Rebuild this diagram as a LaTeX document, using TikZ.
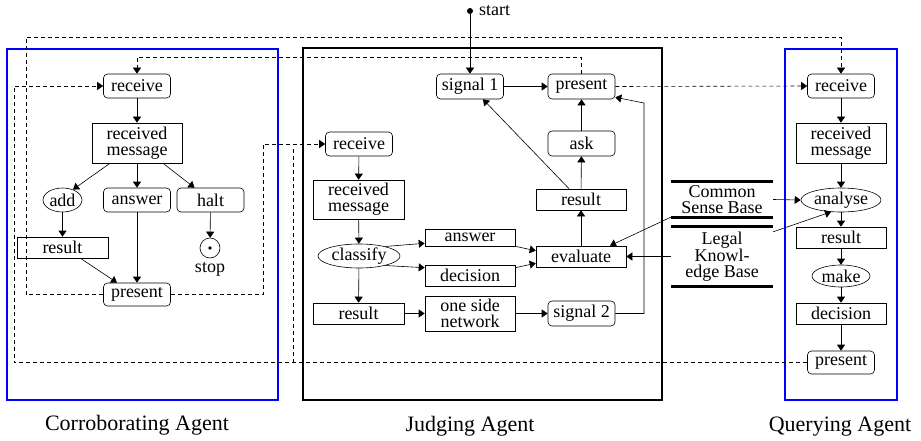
\documentclass[tikz,border=0pt]{standalone}
\usepackage{fontspec}
\setmainfont{Liberation Serif}
\usetikzlibrary{arrows.meta,shapes.geometric}
\begin{document}
\begin{tikzpicture}[x=1pt,y=-1pt,
 every node/.style={font=\fontsize{18}{16}\selectfont, inner sep=0pt, align=center},
 rnd/.style={draw, rounded corners=4pt, minimum width=67pt, minimum height=24pt, line width=0.6pt},
 box/.style={draw, minimum width=90pt, minimum height=21pt, line width=0.6pt},
 ell/.style={draw, ellipse, minimum height=24pt, line width=0.6pt},
 arr/.style={-{Triangle[length=6pt,width=8pt]}, line width=0.6pt},
 dsh/.style={dash pattern=on 4pt off 3pt, line width=0.6pt},
 dsharr/.style={dsh, -{Triangle[length=6pt,width=8pt]}},
 agentbox/.style={line width=2.5pt},
 lbl/.style={font=\fontsize{22}{24}\selectfont, anchor=base},
 dbline/.style={line width=3pt}
]
\useasboundingbox (0,0) rectangle (921,441);

% agent frames
\draw[agentbox, blue] (7,49) rectangle (278,400);
\draw[agentbox] (303,48) rectangle (662,400);
\draw[agentbox, blue] (785,49) rectangle (897,400);

\node[lbl] (lc) at (137,430) {Corroborating Agent};
\node[lbl] (lj) at (470,431) {Judging Agent};
\node[lbl] (lq) at (840,431) {Querying Agent};

% Corroborating agent
\node[rnd] (crecv) at (137,86) {receive};
\node[box, minimum height=40pt] (crm) at (137,143) {received\\message};
\node[ell, minimum width=39pt] (cadd) at (62.5,200) {add};
\node[rnd] (cans) at (137,200) {answer};
\node[rnd] (chalt) at (210.5,200) {halt};
\node[box, minimum width=91pt] (cres) at (62.5,247.5) {result};
\node[circle, draw, minimum size=20pt, line width=0.6pt] (cstop) at (210,248) {};
\fill (cstop.center) circle (1.8pt);
\node[anchor=base] (cstoplbl) at (210,272) {stop};
\node[rnd, minimum height=23pt] (cpres) at (137,294.5) {present};

% Judging agent
\node[circle, fill, minimum size=6pt] (start) at (470,11) {};
\node[anchor=base west] (startlbl) at (479,16) {start};
\node[rnd, minimum height=25pt] (sig1) at (470,86.5) {signal 1};
\node[rnd, minimum height=25pt] (jpres) at (581.5,86.5) {present};
\node[rnd] (jrecv) at (359,144) {receive};
\node[box, minimum width=91pt, minimum height=39pt] (jrm) at (358.5,199.5) {received\\message};
\node[rnd, minimum height=25pt] (ask) at (581.5,143.5) {ask};
\node[box] (jres) at (581,199.5) {result};
\node[box] (jeval) at (581,256.5) {evaluate};
\node[ell, minimum width=82pt] (cls) at (359,256) {classify};
\node[box, minimum height=17pt] (jans) at (470,237.5) {answer};
\node[box] (jdec) at (470,275.5) {decision};
\node[box, minimum width=91pt] (jres2) at (358.5,313.5) {result};
\node[box, minimum height=35pt] (osn) at (470,313.5) {one side\\network};
\node[rnd, minimum height=25pt] (sig2) at (581.5,313.5) {signal 2};

% knowledge bases
\node[minimum width=102pt, minimum height=35pt] (csb) at (722,199.5) {Common\\Sense Base};
\node[minimum width=102pt, minimum height=59pt] (lkb) at (722,256.5) {Legal\\Knowl-\\edge Base};
\draw[dbline] (csb.north west) -- (csb.north east);
\draw[dbline] (csb.south west) -- (csb.south east);
\draw[dbline] (lkb.north west) -- (lkb.north east);
\draw[dbline] (lkb.south west) -- (lkb.south east);

% Querying agent
\node[rnd] (qrecv) at (841,86) {receive};
\node[box, minimum height=40pt] (qrm) at (841,143) {received\\message};
\node[ell, minimum width=80pt] (qan) at (841,200) {analyse};
\node[box] (qres) at (841,237.5) {result};
\node[ell, minimum width=58pt, minimum height=22pt] (qmake) at (841,276) {make};
\node[box] (qdec) at (841,313.5) {decision};
\node[rnd, minimum height=23pt] (qpres) at (841,362.5) {present};

% dashed message lines
\coordinate (a1) at (26,294.5);
\coordinate (a2) at (26,37);
\draw[dsharr] (cpres.west) -- (a1) -- (a2) -- (qrecv.north |- a2) -- (qrecv.north);
\draw[dsharr] (cpres.east) -| (263,144) -- (jrecv.west);
\draw[dsharr] (jpres.north) |- (137,57) -- (crecv.north);
\draw[dsharr] (jpres.east) -- (qrecv.west);
\draw[dsharr] (qpres.west) -| (14,86) -- (crecv.west);
\coordinate (e1) at (293,362.5);
\coordinate (e2) at (293,144);
\draw[dsh] (e1) -- (e2);

% corroborating arrows
\draw[arr] (crecv) -- (crm);
\draw[arr] ([xshift=-27pt]crm.south) -- (cadd.45);
\draw[arr] (crm) -- (cans);
\draw[arr] ([xshift=26pt]crm.south) -- ([xshift=-16pt]chalt.north);
\draw[arr] (cadd) -- (cres);
\draw[arr] (chalt) -- (cstop);
\draw[arr] (cans) -- (cpres);
\draw[arr] ([xshift=18pt]cres.south) -- ([xshift=-20pt]cpres.north);

% judging arrows
\draw[arr] (start) -- (sig1);
\draw[arr] (sig1) -- (jpres);
\draw[arr] (ask) -- (jpres);
\draw[arr] (jres) -- (ask);
\draw[arr] (jeval) -- (jres);
\draw[arr] ([xshift=-12pt]jres.north) -- ([xshift=13pt]sig1.south);
\draw[arr] (sig2.east) -| (644,103) -- ([yshift=2pt]jpres.south east);
\draw[arr] (jrecv) -- (jrm);
\draw[arr] (jrm) -- (cls);
\draw[arr] (cls) -- (jres2);
\draw[arr] (jres2) -- (osn);
\draw[arr] (osn) -- (sig2);
\draw[arr] (cls.20) -- ([yshift=3pt]jans.south west);
\draw[arr] (cls.-20) -- ([yshift=-3pt]jdec.north west);
\draw[arr] (jans.south east) -- ([yshift=-5pt]jeval.north west);
\draw[arr] ([yshift=-3pt]jdec.north east) -- ([yshift=4pt]jeval.south west);
\draw[arr] (csb.south west) -- ([xshift=29pt]jeval.north);
\draw[arr] (lkb.west) -- (jeval.east);
\draw[arr] (csb.east) -- (qan.west);
\draw[arr] ([yshift=-5pt]lkb.north east) -- (qan.230);

% querying arrows
\draw[arr] (qrecv) -- (qrm);
\draw[arr] (qrm) -- (qan);
\draw[arr] (qan) -- (qres);
\draw[arr] (qres) -- (qmake);
\draw[arr] (qmake) -- (qdec);
\draw[arr] (qdec) -- (qpres);
\end{tikzpicture}
\end{document}
